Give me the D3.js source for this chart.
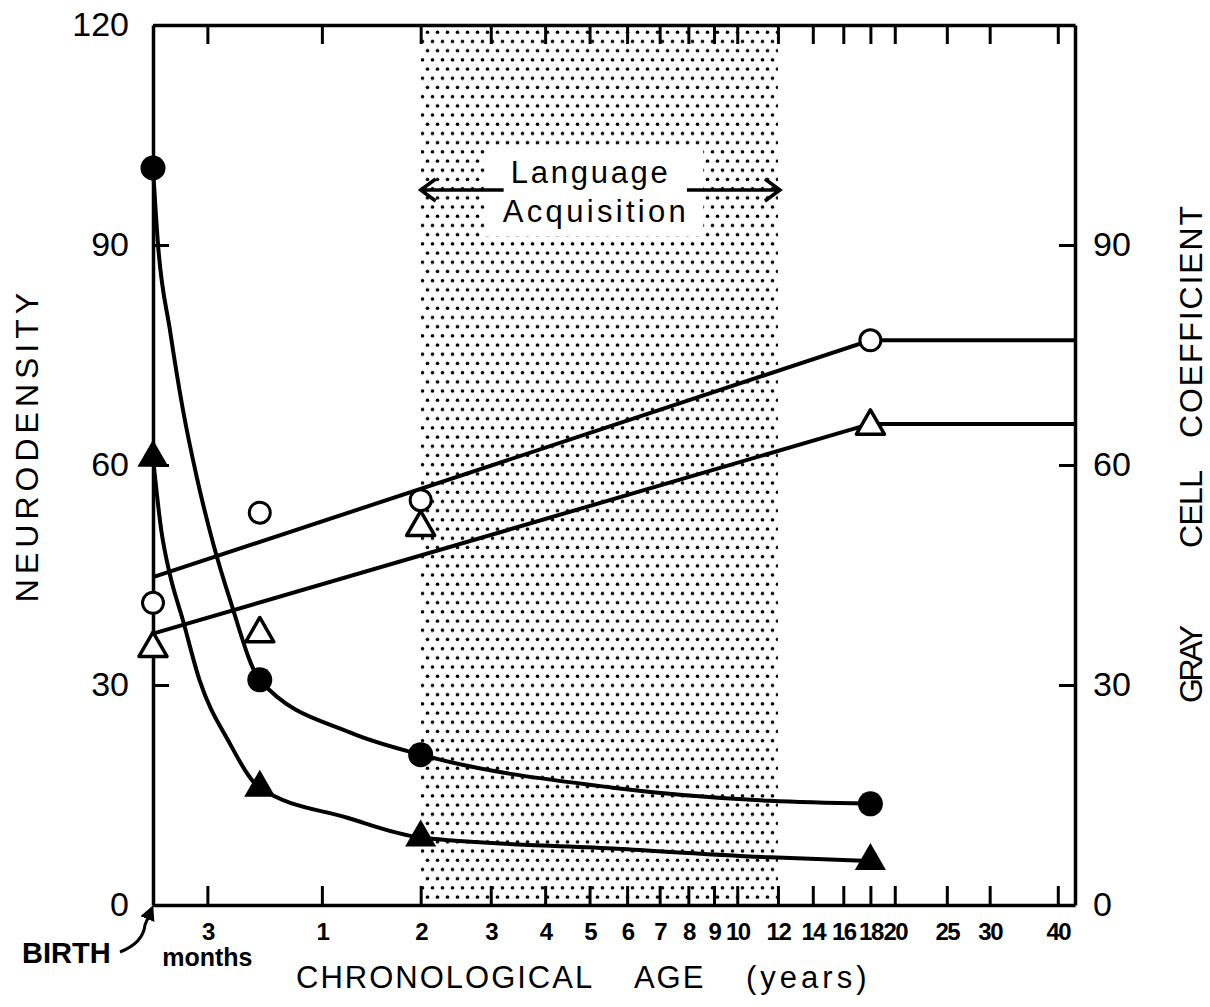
<!DOCTYPE html>
<html>
<head>
<meta charset="utf-8">
<script src="https://cdn.jsdelivr.net/npm/d3@7"></script>
<style>
  body { margin: 0; background: #fff; }
  svg { display: block; font-family: 'Liberation Sans', Arial, sans-serif; }
  .axis path, .axis line { stroke: #000; }
  .axis text { fill: #000; }
</style>
</head>
<body>
<div id="chart"></div>
<script>
// tick labels
var ageTicks = [0.25, 1, 2, 3, 4, 5, 6, 7, 8, 9, 10, 12, 14, 16, 18, 20, 25, 30, 40];
var ageTickLabels = ["3", "1", "2", "3", "4", "5", "6", "7", "8", "9", "10", "12", "14", "16", "18", "20", "25", "30", "40"];
var leftTicks = [0, 30, 60, 90, 120];
var rightTicks = [0, 30, 60, 90];

// measured points (age in years)
var pointAges = [0, 0.55, 2, 18];
var neuroCircle = [100.5, 30.7, 20.5, 13.8];
var neuroTriangle = [61, 16, 9.2, 6];
var grayCircle = [41.2, 53.5, 55.2, 77];
var grayTriangle = [35, 37, 51.5, 65.3];

// fitted lines
var fitAges = [0, 18, 43];
var grayCircleFit = [44.7, 77, 77];
var grayTriangleFit = [37, 65.6, 65.6];

var circleCurveAges = [0, 0.021, 0.072, 0.131, 0.198, 0.279, 0.372, 0.55, 1.25, 2, 5.6, 11.6, 18];
var circleCurve = [100.5, 90, 78.4, 67.5, 58.2, 49.4, 41.6, 30.7, 23.5, 20.5, 16, 14.2, 13.8];
var triCurveAges = [0, 0.035, 0.07, 0.13, 0.21, 0.36, 0.55, 1.22, 2, 5.6, 11.6, 18];
var triCurve = [61, 51, 45.3, 38.9, 30.7, 22.5, 16, 11.9, 9.2, 7.7, 6.5, 6];

var languageSpan = [2, 12];

var w = 1210;
var h = 1007;
var plotLeft = 153, plotRight = 1075, plotTop = 25, plotBottom = 905;

var svg = d3.select("#chart")
    .append("svg")
    .attr("width", w)
    .attr("height", h);

// age axis is log of (age + 1)
var scaleX = d3.scaleLog()
    .domain([1, 44])
    .range([plotLeft, plotRight]);
function xa(age) { return scaleX(age + 1); }

var scaleY = d3.scaleLinear()
    .domain([0, 120])
    .range([plotBottom, plotTop]);

// dotted shading
var defs = svg.append("defs");
var pat = defs.append("pattern")
    .attr("id", "dots")
    .attr("patternUnits", "userSpaceOnUse")
    .attr("width", 10)
    .attr("height", 18.4);
pat.append("circle").attr("cx", 2.5).attr("cy", 4.6).attr("r", 1.8).attr("fill", "#000");
pat.append("circle").attr("cx", 7.5).attr("cy", 13.8).attr("r", 1.8).attr("fill", "#000");

svg.append("rect")
    .attr("x", xa(languageSpan[0]))
    .attr("y", plotTop)
    .attr("width", xa(languageSpan[1]) - xa(languageSpan[0]))
    .attr("height", plotBottom - plotTop)
    .attr("fill", "url(#dots)");

// white box behind the label
var midX = (xa(languageSpan[0]) + xa(languageSpan[1])) / 2;
svg.append("rect")
    .attr("x", midX - 114)
    .attr("y", 150)
    .attr("width", 218)
    .attr("height", 86)
    .attr("fill", "#fff");

svg.append("text")
    .attr("x", midX - 10)
    .attr("y", 183)
    .attr("text-anchor", "middle")
    .attr("font-size", 31)
    .attr("textLength", 157)
    .attr("lengthAdjust", "spacing")
    .text("Language");
svg.append("text")
    .attr("x", midX - 5)
    .attr("y", 222)
    .attr("text-anchor", "middle")
    .attr("font-size", 31)
    .attr("textLength", 183)
    .attr("lengthAdjust", "spacing")
    .text("Acquisition");

// arrows
var ay = 190;
var x0 = xa(languageSpan[0]), x1 = xa(languageSpan[1]);
svg.append("path")
    .attr("d", "M" + x0 + "," + ay + "H" + (x0 + 83) +
        "M" + (x0 + 15) + "," + (ay - 11) + "L" + x0 + "," + ay + "L" + (x0 + 15) + "," + (ay + 11))
    .attr("fill", "none").attr("stroke", "#000").attr("stroke-width", 3.5);
svg.append("path")
    .attr("d", "M" + (x1 - 91) + "," + ay + "H" + (x1 + 2) +
        "M" + (x1 - 13) + "," + (ay - 11) + "L" + (x1 + 2) + "," + ay + "L" + (x1 - 13) + "," + (ay + 11))
    .attr("fill", "none").attr("stroke", "#000").attr("stroke-width", 3.5);

// axes
var axisBottom = d3.axisBottom(scaleX)
    .tickValues(ageTicks.map(function(d) { return d + 1; }))
    .tickFormat(function(d, i) { return ageTickLabels[i]; })
    .tickSizeInner(-19)
    .tickSizeOuter(0)
    .tickPadding(18);
var gb = svg.append("g")
    .attr("class", "axis")
    .attr("transform", "translate(0," + plotBottom + ")")
    .call(axisBottom);
gb.selectAll("text")
    .attr("font-size", 24)
    .attr("font-weight", "bold")
    .attr("letter-spacing", "-1.5px");

var axisTop = d3.axisTop(scaleX)
    .tickValues(ageTicks.map(function(d) { return d + 1; }))
    .tickFormat("")
    .tickSizeInner(-19)
    .tickSizeOuter(0);
svg.append("g")
    .attr("class", "axis")
    .attr("transform", "translate(0," + plotTop + ")")
    .call(axisTop);

var axisLeft = d3.axisLeft(scaleY)
    .tickValues(leftTicks)
    .tickSizeInner(-16)
    .tickSizeOuter(0)
    .tickPadding(24);
svg.append("g")
    .attr("class", "axis")
    .attr("transform", "translate(" + plotLeft + ",0)")
    .call(axisLeft)
    .selectAll("text")
    .attr("font-size", 34);

var axisRight = d3.axisRight(scaleY)
    .tickValues(rightTicks)
    .tickSizeInner(-16)
    .tickSizeOuter(0)
    .tickPadding(18);
svg.append("g")
    .attr("class", "axis")
    .attr("transform", "translate(" + plotRight + ",0)")
    .call(axisRight)
    .selectAll("text")
    .attr("font-size", 34);

svg.selectAll(".axis path").attr("stroke-width", 3.5);
svg.selectAll(".axis line").attr("stroke-width", 3);

// fitted lines
var line = d3.line()
    .x(function(d) { return xa(d[0]); })
    .y(function(d) { return scaleY(d[1]); });
var curve = d3.line()
    .x(function(d) { return xa(d[0]); })
    .y(function(d) { return scaleY(d[1]); })
    .curve(d3.curveMonotoneX);

function pairs(a, b) { return a.map(function(d, i) { return [d, b[i]]; }); }

[grayCircleFit, grayTriangleFit].forEach(function(s) {
    svg.append("path")
        .attr("d", line(pairs(fitAges, s)))
        .attr("fill", "none").attr("stroke", "#000").attr("stroke-width", 4);
});
svg.append("path")
    .attr("d", curve(pairs(circleCurveAges, circleCurve)))
    .attr("fill", "none").attr("stroke", "#000").attr("stroke-width", 4);
svg.append("path")
    .attr("d", curve(pairs(triCurveAges, triCurve)))
    .attr("fill", "none").attr("stroke", "#000").attr("stroke-width", 4);

// markers
var tri = d3.symbol().type(d3.symbolTriangle);

svg.selectAll(".nc").data(pairs(pointAges, neuroCircle)).enter()
    .append("circle")
    .attr("cx", function(d) { return xa(d[0]); })
    .attr("cy", function(d) { return scaleY(d[1]); })
    .attr("r", 12.5)
    .attr("fill", "#000");

svg.selectAll(".nt").data(pairs(pointAges, neuroTriangle)).enter()
    .append("path")
    .attr("transform", function(d) { return "translate(" + xa(d[0]) + "," + scaleY(d[1]) + ")"; })
    .attr("d", tri.size(420))
    .attr("fill", "#000");

svg.selectAll(".gc").data(pairs(pointAges, grayCircle)).enter()
    .append("circle")
    .attr("cx", function(d) { return xa(d[0]); })
    .attr("cy", function(d) { return scaleY(d[1]); })
    .attr("r", 10.5)
    .attr("fill", "#fff")
    .attr("stroke", "#000")
    .attr("stroke-width", 3);

svg.selectAll(".gt").data(pairs(pointAges, grayTriangle)).enter()
    .append("path")
    .attr("transform", function(d) { return "translate(" + xa(d[0]) + "," + scaleY(d[1]) + ")"; })
    .attr("d", tri.size(340))
    .attr("fill", "#fff")
    .attr("stroke", "#000")
    .attr("stroke-width", 3.5)
    .attr("stroke-linejoin", "round");

// titles
svg.append("text")
    .attr("transform", "translate(38,445) rotate(-90)")
    .attr("text-anchor", "middle")
    .attr("font-size", 32)
    .attr("letter-spacing", "5px")
    .text("NEURODENSITY");

var rightWords = [["COEFFICIENT", 322, 232], ["CELL", 509, 78], ["GRAY", 664, 78]];
rightWords.forEach(function(d) {
    svg.append("text")
        .attr("transform", "translate(1202," + d[1] + ") rotate(-90)")
        .attr("text-anchor", "middle")
        .attr("font-size", 32)
        .attr("textLength", d[2])
        .attr("lengthAdjust", "spacing")
        .text(d[0]);
});

svg.append("text")
    .attr("x", 296)
    .attr("y", 988)
    .attr("font-size", 31)
    .attr("letter-spacing", "2px")
    .attr("word-spacing", "32px")
    .text("CHRONOLOGICAL AGE");
svg.append("text")
    .attr("x", 746)
    .attr("y", 988)
    .attr("font-size", 31)
    .attr("letter-spacing", "4px")
    .text("(years)");

svg.append("text")
    .attr("x", xa(0.25))
    .attr("y", 966)
    .attr("text-anchor", "middle")
    .attr("font-size", 25)
    .attr("font-weight", "bold")
    .text("months");

svg.append("text")
    .attr("x", 22)
    .attr("y", 963)
    .attr("font-size", 29)
    .attr("font-weight", "bold")
    .text("BIRTH");

// birth arrow
defs.append("marker")
    .attr("id", "head")
    .attr("viewBox", "0 0 10 10")
    .attr("refX", 8).attr("refY", 5)
    .attr("markerWidth", 5).attr("markerHeight", 5)
    .attr("orient", "auto")
    .append("path").attr("d", "M0,0L10,5L0,10Z").attr("fill", "#000");
var bx = xa(0), by = scaleY(0);
svg.append("path")
    .attr("d", "M" + (bx - 33) + "," + (by + 47) + "Q" + (bx - 10) + "," + (by + 38) + " " + (bx - 8) + "," + (by + 20) + "L" + (bx - 1) + "," + (by + 3))
    .attr("fill", "none")
    .attr("stroke", "#000")
    .attr("stroke-width", 3)
    .attr("marker-end", "url(#head)");
</script>
</body>
</html>
